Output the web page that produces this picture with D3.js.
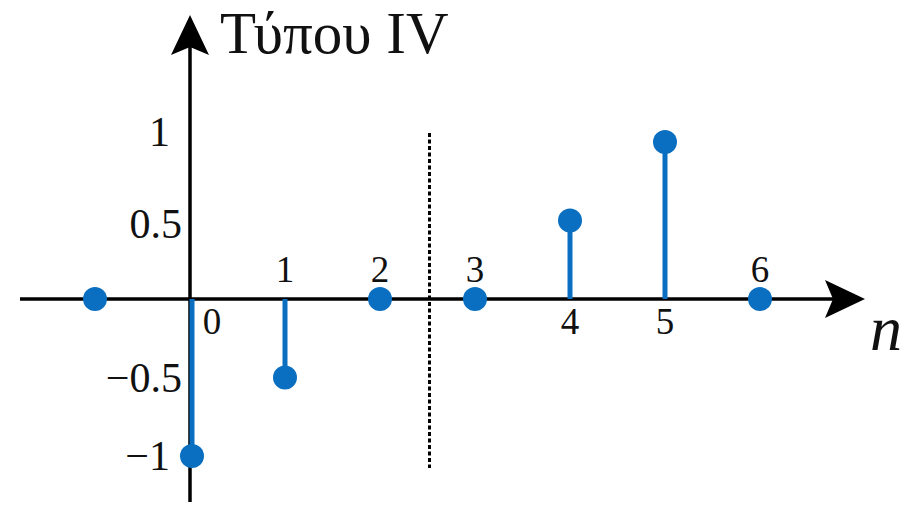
<!DOCTYPE html>
<html>
<head>
<meta charset="utf-8">
<script src="https://cdn.jsdelivr.net/npm/d3@7"></script>
<style>
  html, body { margin: 0; padding: 0; background: #fff; }
  svg { display: block; }
  text { font-family: "Liberation Serif", "DejaVu Serif", serif; fill: #111; }
</style>
</head>
<body>
<svg id="chart" width="914" height="513"></svg>
<script>
// Impulse response of a type IV linear-phase FIR filter
const nValues = [-1, 0, 1, 2, 3, 4, 5, 6];
const hValues = [0, -1, -0.5, 0, 0, 0.5, 1, 0];

// n-axis tick labels and which side of the axis each one sits on
const xTickValues = [0, 1, 2, 3, 4, 5, 6];
const xTickLabels = ["0", "1", "2", "3", "4", "5", "6"];
const xTickSide = ["below", "above", "above", "above", "below", "below", "above"];

// amplitude-axis tick labels
const yTickValues = [1, 0.5, -0.5, -1];
const yTickLabels = ["1", "0.5", "\u22120.5", "\u22121"];

const titleText = "Τύπου IV";
const axisName = "n";
const symmetryCentre = 2.5;

const svg = d3.select("#chart");
const blue = "#0a6fc1";

const x = d3.scaleLinear().domain([0, 6]).range([190, 760]);
const y = d3.scaleLinear().domain([0, 1]).range([299, 142]);

const axisG = svg.append("g");

// horizontal axis with arrow head
axisG.append("line")
  .attr("x1", 20).attr("x2", 835)
  .attr("y1", y(0)).attr("y2", y(0))
  .attr("stroke", "#000").attr("stroke-width", 3.5);
axisG.append("path")
  .attr("d", `M865,${y(0)} L825,${y(0) - 19} L833,${y(0)} L825,${y(0) + 19} Z`)
  .attr("fill", "#000");

// vertical axis with arrow head
axisG.append("line")
  .attr("x1", x(0)).attr("x2", x(0))
  .attr("y1", 502).attr("y2", 45)
  .attr("stroke", "#000").attr("stroke-width", 3.5);
axisG.append("path")
  .attr("d", `M${x(0)},15 L${x(0) - 19},55 L${x(0)},47 L${x(0) + 19},55 Z`)
  .attr("fill", "#000");

// dotted line marking the centre of antisymmetry
svg.append("line")
  .attr("x1", x(symmetryCentre) + 2).attr("x2", x(symmetryCentre) + 2)
  .attr("y1", 133).attr("y2", 468)
  .attr("stroke", "#000").attr("stroke-width", 3)
  .attr("stroke-dasharray", "4 2.5");

// stems
const data = nValues.map((n, i) => ({ n, v: hValues[i] }));
svg.append("g").selectAll("line")
  .data(data.filter(d => d.v !== 0))
  .join("line")
  .attr("x1", d => x(d.n) + (d.n === 0 ? 2 : 0))
  .attr("x2", d => x(d.n) + (d.n === 0 ? 2 : 0))
  .attr("y1", y(0))
  .attr("y2", d => y(d.v))
  .attr("stroke", blue).attr("stroke-width", 5);

// markers
svg.append("g").selectAll("circle")
  .data(data)
  .join("circle")
  .attr("cx", d => x(d.n) + (d.n === 0 ? 2 : 0))
  .attr("cy", d => y(d.v))
  .attr("r", 12)
  .attr("fill", blue);

// n tick labels
svg.append("g").selectAll("text")
  .data(xTickValues)
  .join("text")
  .attr("x", (d, i) => x(d) + (d === 0 ? 22 : 0))
  .attr("y", (d, i) => xTickSide[i] === "above" ? y(0) - 17 : y(0) + 35)
  .attr("text-anchor", "middle")
  .attr("font-size", 37)
  .text((d, i) => xTickLabels[i]);

// amplitude tick labels
svg.append("g").selectAll("text")
  .data(yTickValues)
  .join("text")
  .attr("x", d => Math.abs(d) === 1 ? 170 : 182)
  .attr("y", d => y(d) + (d === 1 ? 4 : d === 0.5 ? 17 : 14))
  .attr("text-anchor", "end")
  .attr("font-size", 42)
  .text((d, i) => yTickLabels[i]);

// title and axis name
svg.append("text")
  .attr("x", 220).attr("y", 53)
  .attr("font-size", 59)
  .text(titleText);

svg.append("text")
  .attr("x", 870).attr("y", 350)
  .attr("font-size", 64)
  .attr("font-style", "italic")
  .text(axisName);
</script>
</body>
</html>
